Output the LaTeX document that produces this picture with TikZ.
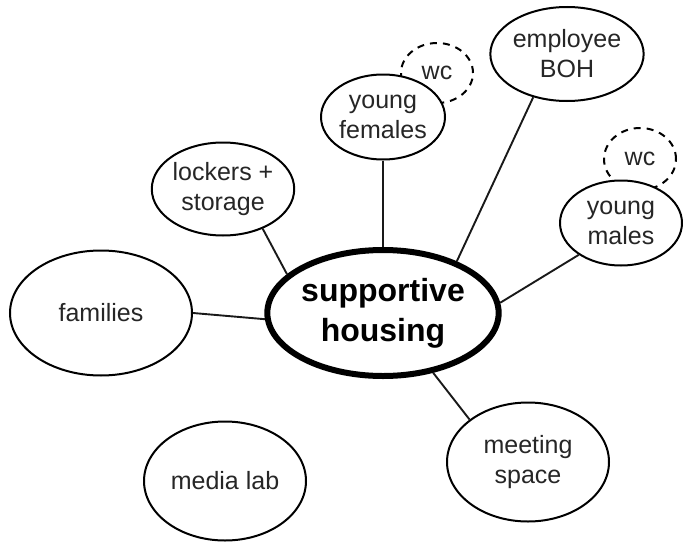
\documentclass[tikz,border=0pt]{standalone}
\usepackage{fontspec}
\setmainfont{Liberation Sans}
\usetikzlibrary{shapes.geometric}
\begin{document}
\begin{tikzpicture}[x=1pt,y=-1pt,
  bub/.style={ellipse, draw=black, line width=2pt, fill=white, inner sep=0pt, align=center,
    font=\fontsize{25}{30}\selectfont, text=black!85},
  wcb/.style={ellipse, draw=black, line width=2pt, dash pattern=on 7pt off 6pt, inner sep=0pt,
    font=\fontsize{25}{30}\selectfont, text=black!85},
  hub/.style={ellipse, draw=black, line width=6pt, fill=white, inner sep=0pt, align=center,
    font=\bfseries\fontsize{32}{40}\selectfont, text=black},
  link/.style={line width=1.9pt, draw=black!90}]
\useasboundingbox (0,0) rectangle (683,546);
% dashed wc bubbles (behind)
\node[wcb, minimum width=72pt, minimum height=60pt] (wc1) at (437,73) {wc};
\node[wcb, minimum width=72pt, minimum height=62pt] (wc2) at (640,159) {wc};
% bubbles
\node[hub, minimum width=226pt, minimum height=126pt] (sh) at (383,313) {supportive\\housing};
\node[bub, minimum width=182pt, minimum height=125pt] (fam) at (101,313) {families};
\node[bub, minimum width=138pt, minimum height=93pt] (lock) at (223,189) {lockers +\\storage};
\node[bub, minimum width=124pt, minimum height=85pt] (yf) at (383,117) {young\\females};
\node[bub, minimum width=138pt, minimum height=94pt] (boh) at (567,54) {employee\\BOH};
\node[bub, minimum width=122pt, minimum height=85pt] (ym) at (621,223) {young\\males};
\node[bub, minimum width=162pt, minimum height=119pt] (ml) at (225,481) {media lab};
\node[bub, minimum width=162pt, minimum height=119pt] (ms) at (528,462) {meeting\\space};
% connectors
\draw[link] (fam.0) -- (sh.183);
\draw[link] (lock.-45) -- (sh.158);
\draw[link] (yf.south) -- (sh.north);
\draw[link] (boh.232) -- (sh.35);
\draw[link] (ym.217) -- (sh.5.5);
\draw[link] (sh.310.7) -- (ms.144.6);
\end{tikzpicture}
\end{document}
